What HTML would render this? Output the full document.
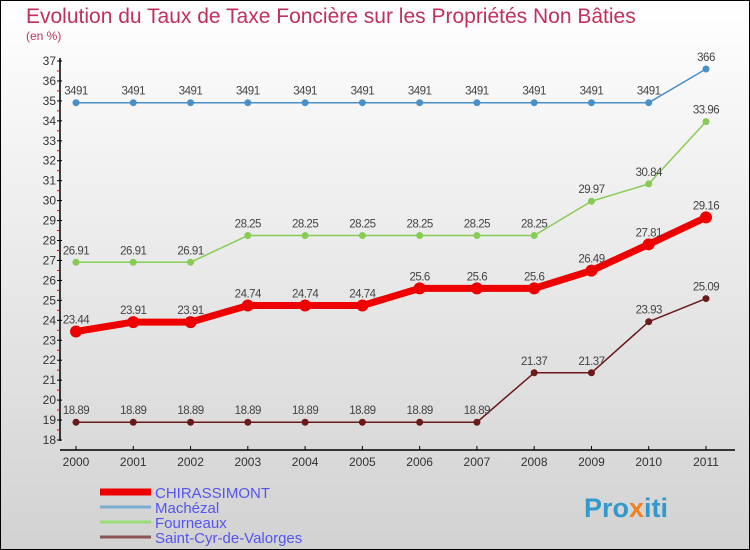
<!DOCTYPE html>
<html><head><meta charset="utf-8">
<style>
body{margin:0;width:750px;height:550px;overflow:hidden;font-family:"Liberation Sans",sans-serif}
svg{display:block}
</style></head>
<body>
<svg id="c" width="750" height="550">
<defs><linearGradient id="bg" x1="0" y1="0" x2="0" y2="1"><stop offset="0" stop-color="#ffffff"/><stop offset="1" stop-color="#d2d2d2"/></linearGradient></defs>
<rect x="0.5" y="0.5" width="749" height="549" fill="url(#bg)" stroke="#000"/>
<text x="26" y="23" font-size="21" fill="#c0305a">Evolution du Taux de Taxe Foncière sur les Propriétés Non Bâties</text>
<text x="26" y="40" font-size="12" fill="#c0305a">(en %)</text>
<g id="g"></g>
<text x="584" y="517" font-size="27" font-weight="bold" fill="#3399cc">Pro<tspan fill="#f08020">x</tspan><tspan fill="#3399cc">iti</tspan></text>
</svg>
<script>
const years=[2000,2001,2002,2003,2004,2005,2006,2007,2008,2009,2010,2011];
const chirassimont=[23.44,23.91,23.91,24.74,24.74,24.74,25.6,25.6,25.6,26.49,27.81,29.16];
const machezal=[34.91,34.91,34.91,34.91,34.91,34.91,34.91,34.91,34.91,34.91,34.91,36.6];
const fourneaux=[26.91,26.91,26.91,28.25,28.25,28.25,28.25,28.25,28.25,29.97,30.84,33.96];
const saintcyr=[18.89,18.89,18.89,18.89,18.89,18.89,18.89,18.89,21.37,21.37,23.93,25.09];
const yTicks=[18,19,20,21,22,23,24,25,26,27,28,29,30,31,32,33,34,35,36,37];
const NS="http://www.w3.org/2000/svg";
const g=document.getElementById('g');
function X(i){return 76+i*(706-76)/(years.length-1);}
function Y(v){return 440-(v-18)*(440-61)/19;}
function el(t,a){const e=document.createElementNS(NS,t);for(const k in a)e.setAttribute(k,a[k]);g.appendChild(e);return e;}
let e=el('line',{x1:60,y1:58,x2:60,y2:441,stroke:'#000','stroke-width':1.5});


e=el('line',{x1:60,y1:450,x2:735,y2:450,stroke:'#000','stroke-width':1.5});


yTicks.forEach(v=>{
 let t=el('line',{x1:57,y1:Y(v),x2:62,y2:Y(v),stroke:'#000'});
 
 
 if(v<37){let m=el('line',{x1:57,y1:Y(v+0.5),x2:60,y2:Y(v+0.5),stroke:'#e00'});
 
 }
 let l=el('text',{x:56,y:Y(v)+4,'font-size':12,fill:'#333','text-anchor':'end'});
 l.textContent=v;
 
 
});
years.forEach((yr,i)=>{
 let t=el('line',{x1:X(i),y1:446,x2:X(i),y2:450,stroke:'#000'});
 
 
 let l=el('text',{x:X(i),y:466,'font-size':12,fill:'#333','text-anchor':'middle'});
 l.textContent=yr;
 
 
});
const series=[
 {n:'machezal',d:machezal,c:'#4a90c8',w:1.5,r:3.5},
 {n:'fourneaux',d:fourneaux,c:'#88cc55',w:1.5,r:3.5},
 {n:'saint-cyr-de-valorges',d:saintcyr,c:'#6a1a1a',w:1.5,r:3.5},
 {n:'chirassimont',d:chirassimont,c:'#ee0000',w:7,r:6}
];
series.forEach(s=>{
 let p=el('polyline',{points:s.d.map((v,i)=>X(i)+','+Y(v)).join(' '),fill:'none',stroke:s.c,'stroke-width':s.w,'stroke-linejoin':'round'});
 
 
 s.d.forEach((v,i)=>{
  let c=el('circle',{cx:X(i),cy:Y(v),r:s.r,fill:s.c});
  
  
  let l=el('text',{x:X(i),y:Y(v)-8,'font-size':11.5,fill:'#444','text-anchor':'middle','letter-spacing':'-0.5'});
  l.textContent=s.n==='machezal'?String(v).replace('.',''):String(v);
  
  
 });
});
const leg=[['CHIRASSIMONT','#ee0000',7],['Machézal','#7aaed0',3],['Fourneaux','#99dd77',3],['Saint-Cyr-de-Valorges','#8a5555',3]];
leg.forEach((L,i)=>{
 const y=492+i*15;
 let ln=el('line',{x1:100,y1:y,x2:151,y2:y,stroke:L[1],'stroke-width':L[2]});
 
 
 let t=el('text',{x:155,y:y+6,'font-size':15,fill:'#5555ee'});
 t.textContent=L[0];
 
 
});
</script>
</body></html>
